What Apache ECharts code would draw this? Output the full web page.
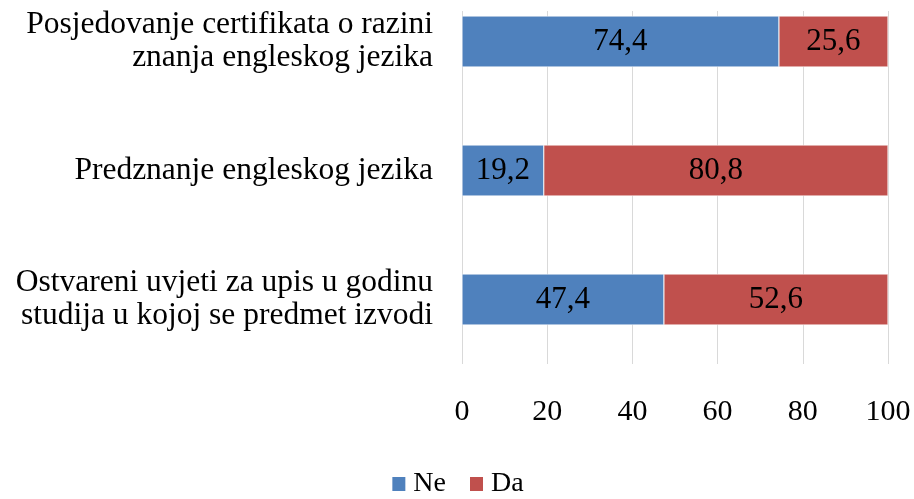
<!DOCTYPE html>
<html>
<head>
<meta charset="utf-8">
<script src="https://cdn.jsdelivr.net/npm/echarts@6/dist/echarts.min.js"></script>
<style>
	html, body {margin: 0; padding: 0; background: #fff;}
	#chart {width: 914px; height: 499px;}
</style>
</head>
<body>
<div id="chart"></div>
<script>
let categories = [
	'Ostvareni uvjeti za upis u godinu\nstudija u kojoj se predmet izvodi',
	'Predznanje engleskog jezika',
	'Posjedovanje certifikata o razini\nznanja engleskog jezika',
];
let ne = [47.4, 19.2, 74.4];
let da = [52.6, 80.8, 25.6];
let xTicks = [0, 20, 40, 60, 80, 100];

let font = '"Liberation Serif", "Times New Roman", serif';
let chart = echarts.init(document.getElementById('chart'));

let barLabel = {
	show: true,
	position: 'inside',
	color: '#000',
	fontFamily: font,
	fontSize: 31,
	formatter: (p) => p.value.toFixed(1).replace('.', ','),
};

chart.setOption({
	animation: false,
	textStyle: {fontFamily: font},
	grid: {left: 462, right: 26, top: -23, height: 387, outerBoundsMode: 'none'},
	graphic: [{
		type: 'rect',
		shape: {x: 440, y: 0, width: 474, height: 11},
		style: {fill: '#fff'},
		z: 100,
	}],
	legend: {
		bottom: -4,
		left: 'center',
		itemWidth: 15,
		itemHeight: 16,
		itemGap: 22,
		icon: 'rect',
		textStyle: {fontFamily: font, fontSize: 28, color: '#000', padding: [0, 0, 0, 2]},
		data: ['Ne', 'Da'],
	},
	xAxis: {
		type: 'value',
		min: xTicks[0],
		max: xTicks[xTicks.length - 1],
		interval: 20,
		axisLine: {show: false},
		axisTick: {show: false},
		splitLine: {lineStyle: {color: '#d9d9d9', width: 1}},
		axisLabel: {fontFamily: font, fontSize: 30, color: '#000', margin: 33},
	},
	yAxis: {
		type: 'category',
		data: categories,
		axisLine: {show: false},
		axisTick: {show: false},
		axisLabel: {
			fontFamily: font,
			fontSize: 31.5,
			color: '#000',
			margin: 29,
			lineHeight: 33,
			align: 'right',
			padding: [6, 0, 0, 0],
		},
	},
	series: [
		{
			name: 'Ne',
			type: 'bar',
			stack: 'total',
			data: ne,
			barWidth: 51,
			itemStyle: {color: '#4F81BD', borderColor: '#fff', borderWidth: 0.5},
			label: barLabel,
		},
		{
			name: 'Da',
			type: 'bar',
			stack: 'total',
			data: da,
			barWidth: 51,
			itemStyle: {color: '#C0504D', borderColor: '#fff', borderWidth: 0.5},
			label: barLabel,
		},
	],
});
</script>
</body>
</html>
